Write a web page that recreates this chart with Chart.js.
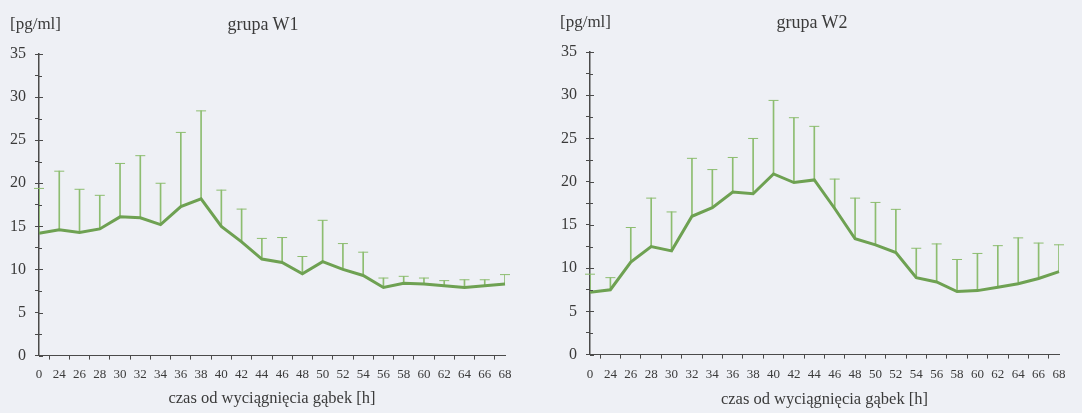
<!DOCTYPE html>
<html>
<head>
<meta charset="utf-8">
<script src="https://cdn.jsdelivr.net/npm/chart.js@4/dist/chart.umd.min.js"></script>
<style>
  body { margin: 0; background: #eef0f5; width: 1082px; height: 413px; overflow: hidden; position: relative; font-family: "Liberation Serif", serif; }
  .box { position: absolute; top: 0; height: 413px; }
  .unit { position: absolute; font-size: 17px; color: #3a3a3a; line-height: 20px; }
  .title { position: absolute; font-size: 18px; color: #3a3a3a; line-height: 20px; transform: translateX(-50%); white-space: nowrap; }
</style>
</head>
<body>
<div class="box" style="left:0;width:540px"><canvas id="chartW1"></canvas></div>
<div class="box" style="left:540px;width:542px"><canvas id="chartW2"></canvas></div>
<div class="unit" style="left:10px;top:14px">[pg/ml]</div>
<div class="title" style="left:263px;top:14px">grupa W1</div>
<div class="unit" style="left:560px;top:12px">[pg/ml]</div>
<div class="title" style="left:812px;top:12px">grupa W2</div>
<script>
const hours = ['0', '24', '26', '28', '30', '32', '34', '36', '38', '40', '42', '44', '46', '48', '50', '52', '54', '56', '58', '60', '62', '64', '66', '68'];

const meanW1 = [14.2, 14.6, 14.3, 14.7, 16.1, 16.0, 15.2, 17.3, 18.2, 15.0, 13.2, 11.2, 10.8, 9.5, 10.9, 10.0, 9.3, 7.9, 8.4, 8.3, 8.1, 7.9, 8.1, 8.3];
const upperW1 = [19.4, 21.4, 19.3, 18.6, 22.3, 23.2, 20.0, 25.9, 28.4, 19.2, 17.0, 13.6, 13.7, 11.5, 15.7, 13.0, 12.0, 9.0, 9.2, 9.0, 8.7, 8.8, 8.8, 9.4];

const meanW2 = [7.2, 7.5, 10.7, 12.5, 12.0, 16.0, 17.0, 18.8, 18.6, 20.9, 19.9, 20.2, 16.9, 13.4, 12.7, 11.8, 8.9, 8.4, 7.3, 7.4, 7.8, 8.2, 8.8, 9.6];
const upperW2 = [9.3, 8.9, 14.7, 18.1, 16.5, 22.7, 21.4, 22.8, 25.0, 29.4, 27.4, 26.4, 20.3, 18.1, 17.6, 16.8, 12.3, 12.8, 11.0, 11.7, 12.6, 13.5, 12.9, 12.7];

const lineColor = '#6ea152';
const barColor = '#8dbd70';
const axisColor = '#4a4a4a';
const textColor = '#3a3a3a';

// short tick marks on the inner side of the y axis (ticks cross the axis)
const innerTicks = {
    id: 'innerTicks',
    afterDraw(chart) {
        const y = chart.scales.y;
        const ctx = chart.ctx;
        ctx.save();
        ctx.strokeStyle = axisColor;
        ctx.lineWidth = 1;
        y.ticks.forEach(t => {
            const py = Math.round(y.getPixelForValue(t.value)) + 0.5;
            ctx.beginPath();
            ctx.moveTo(chart.chartArea.left, py);
            ctx.lineTo(chart.chartArea.left + (t.value % 5 === 0 ? 4 : 3), py);
            ctx.stroke();
        });
        ctx.restore();
    }
};

function makeChart(id, means, uppers, pad, labelPad) {
    const ctx = document.getElementById(id).getContext('2d');
    return new Chart(ctx, {
        data: {
            labels: hours,
            datasets: [
                {
                    type: 'line',
                    data: means,
                    borderColor: lineColor,
                    borderWidth: 3,
                    pointRadius: 0,
                    tension: 0,
                    order: 0
                },
                {
                    type: 'bar',
                    data: means.map((m, i) => [m, uppers[i]]),
                    backgroundColor: barColor,
                    borderWidth: 0,
                    barThickness: 1,
                    order: 1
                },
                {
                    type: 'line',
                    data: uppers,
                    showLine: false,
                    pointStyle: 'line',
                    pointRadius: 5,
                    pointBorderColor: barColor,
                    pointBorderWidth: 1,
                    order: 1
                }
            ]
        },
        options: {
            responsive: true,
            maintainAspectRatio: false,
            animation: false,
            layout: { padding: pad },
            plugins: {
                legend: { display: false },
                tooltip: { enabled: false }
            },
            scales: {
                x: {
                    type: 'category',
                    offset: false,
                    grid: { drawOnChartArea: false, drawTicks: true, tickLength: 4, color: axisColor },
                    border: { color: axisColor, width: 1 },
                    ticks: {
                        color: textColor,
                        padding: labelPad,
                        maxRotation: 0,
                        autoSkip: false,
                        font: { family: 'Liberation Serif', size: 13 }
                    },
                    title: {
                        display: true,
                        text: 'czas od wyciągnięcia gąbek [h]',
                        color: textColor,
                        padding: { top: 0, bottom: 0 },
                        font: { family: 'Liberation Serif', size: 16.5 }
                    }
                },
                y: {
                    min: 0,
                    max: 35,
                    grid: { drawOnChartArea: false, drawTicks: true, tickLength: 4, color: axisColor },
                    border: { color: axisColor, width: 1.5 },
                    ticks: {
                        stepSize: 2.5,
                        autoSkip: false,
                        color: textColor,
                        padding: 9,
                        font: { family: 'Liberation Serif', size: 16 },
                        callback: v => (v % 5 === 0 ? v : '')
                    }
                }
            }
        },
        plugins: [innerTicks]
    });
}

makeChart('chartW1', meanW1, upperW1, { left: 1, right: 35, top: 54, bottom: 4 }, 7);
makeChart('chartW2', meanW2, upperW2, { left: 12, right: 23, top: 52, bottom: 3 }, 8);
</script>
</body>
</html>
